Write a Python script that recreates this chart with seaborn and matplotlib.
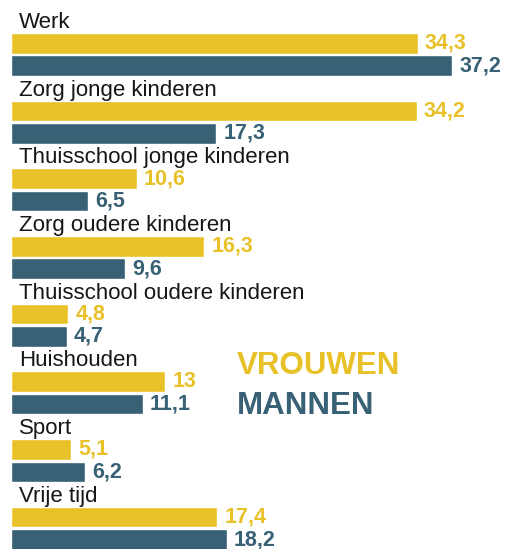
import matplotlib
matplotlib.use("Agg")
import matplotlib.pyplot as plt
import pandas as pd
import seaborn as sns

# data (uren per week)
categorieen = ["Werk", "Zorg jonge kinderen", "Thuisschool jonge kinderen",
               "Zorg oudere kinderen", "Thuisschool oudere kinderen",
               "Huishouden", "Sport", "Vrije tijd"]
vrouwen = [34.3, 34.2, 10.6, 16.3, 4.8, 13, 5.1, 17.4]
mannen = [37.2, 17.3, 6.5, 9.6, 4.7, 11.1, 6.2, 18.2]
reeksen = ["VROUWEN", "MANNEN"]

GEEL = "#E8C128"
BLAUW = "#386175"

df = pd.DataFrame({
    "categorie": categorieen * 2,
    "geslacht": [reeksen[0]] * len(categorieen) + [reeksen[1]] * len(categorieen),
    "uren": vrouwen + mannen,
})

sns.set_style("white")
plt.rcParams["font.family"] = ["Liberation Sans", "DejaVu Sans"]

fig = plt.figure(figsize=(5.13, 5.49), dpi=100)
ax = fig.add_axes([0, 0, 1, 1])

sns.barplot(data=df, y="categorie", x="uren", hue="geslacht", orient="h",
            palette=[GEEL, BLAUW], width=0.66, gap=0.08, legend=False,
            saturation=1, ax=ax)

# value labels with dutch decimal comma
for cont, waarden, kleur in zip(ax.containers, [vrouwen, mannen], [GEEL, BLAUW]):
    labels = [f"{v:g}".replace(".", ",") for v in waarden]
    ax.bar_label(cont, labels=labels, padding=5.2, color=kleur,
                 fontsize=15.5, fontweight="bold")

# category labels above each group
for i, cat in enumerate(categorieen):
    ax.text(19 / 513, i - 0.317 - 5 / 67.6, cat, transform=ax.get_yaxis_transform(),
            ha="left", va="baseline", fontsize=16, color="#161616")

ax.set_xlim(-11 / 11.86, (513 - 11) / 11.86)
ax.set_ylim(7.305, -0.804)
ax.axis("off")

# legend as coloured text
fig.text(237 / 513, 1 - 374 / 549, reeksen[0], ha="left", va="baseline",
         fontsize=22.5, fontweight="bold", color=GEEL)
fig.text(237 / 513, 1 - 414 / 549, reeksen[1], ha="left", va="baseline",
         fontsize=22.5, fontweight="bold", color=BLAUW)

fig.savefig("out.png", dpi=100)
